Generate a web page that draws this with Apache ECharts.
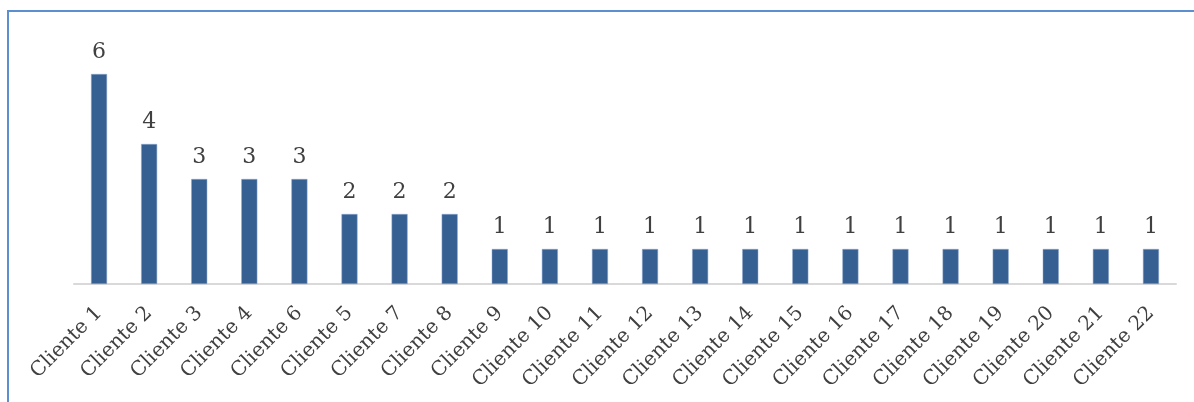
<!DOCTYPE html>
<html>
<head>
<meta charset="utf-8">
<script src="https://cdn.jsdelivr.net/npm/echarts@6/dist/echarts.min.js"></script>
<style>
  html, body { margin: 0; padding: 0; background: #fff; }
  #frame { position: absolute; left: 7px; top: 10px; width: 1200px; height: 400px;
           border-left: 2px solid #5b8fd0; border-top: 2px solid #5b8fd0; box-sizing: border-box; }
  #chart { position: absolute; left: 0; top: 0; width: 1194px; height: 402px; }
</style>
</head>
<body>
<div id="frame"></div>
<div id="chart"></div>
<script>
// Number of items per client
const clients = ['Cliente 1', 'Cliente 2', 'Cliente 3', 'Cliente 4', 'Cliente 6', 'Cliente 5',
  'Cliente 7', 'Cliente 8', 'Cliente 9', 'Cliente 10', 'Cliente 11', 'Cliente 12', 'Cliente 13',
  'Cliente 14', 'Cliente 15', 'Cliente 16', 'Cliente 17', 'Cliente 18', 'Cliente 19',
  'Cliente 20', 'Cliente 21', 'Cliente 22'];
const counts = [6, 4, 3, 3, 3, 2, 2, 2, 1, 1, 1, 1, 1, 1, 1, 1, 1, 1, 1, 1, 1, 1];

const serif = '"DejaVu Serif", "Liberation Serif", serif';
const chart = echarts.init(document.getElementById('chart'));
chart.setOption({
  animation: false,
  grid: { left: 74, right: 18, top: 74, bottom: 118, containLabel: false },
  xAxis: {
    type: 'category',
    data: clients,
    axisLine: { lineStyle: { color: '#d9d9d9', width: 2 } },
    axisTick: { show: false },
    axisLabel: { rotate: 45, interval: 0, margin: 26, color: '#404040',
                 fontFamily: serif, fontSize: 20 }
  },
  yAxis: { type: 'value', min: 0, max: 6, show: false, splitLine: { show: false } },
  series: [{
    type: 'bar',
    data: counts,
    barWidth: 16,
    itemStyle: { color: '#365f92', borderColor: '#8ea9cf', borderWidth: 0.5 },
    label: { show: true, position: 'top', distance: 11, color: '#404040',
             fontFamily: serif, fontSize: 22 }
  }]
});
</script>
</body>
</html>
